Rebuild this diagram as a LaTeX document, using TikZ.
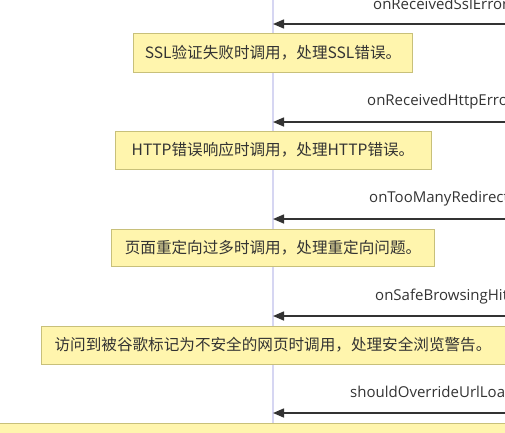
\documentclass[tikz,border=0pt]{standalone}
\usepackage{fontspec}
\setmainfont{Open Sans}
\newfontfamily\cjkfont{Noto Sans CJK SC}
\usepackage{xcolor}
\usetikzlibrary{arrows.meta}

\definecolor{notefill}{HTML}{FFF5AD}
\definecolor{noteline}{HTML}{C8C07A}
\definecolor{lifecolor}{HTML}{D6D6F2}
\definecolor{msgcolor}{HTML}{333333}

\begin{document}
\begin{tikzpicture}[
		x=1pt, y=-1pt,
		note/.style={rectangle, draw=noteline, fill=notefill, line width=0.9pt, inner sep=0pt, text centered, font=\cjkfont\fontsize{15.6}{18}\selectfont, text=msgcolor},  % 注释框
		msglabel/.style={anchor=west, inner sep=0pt, font=\fontsize{15}{17}\selectfont, text=msgcolor},
		msgarrow/.style={-{Triangle[length=11pt,width=9pt]}, line width=1.5pt, draw=msgcolor},
		lifeline/.style={draw=lifecolor, line width=1.6pt}
		]
		\useasboundingbox (0,0) rectangle (505,432);
		\clip (0,0) rectangle (505,432);
		% 生命线
		\coordinate (lifetop) at (273,-10);
		\coordinate (lifebot) at (273,445);
		\draw[lifeline] (lifetop) -- (lifebot);
		% 消息起点（右侧，画面外）与终点（生命线）
		\coordinate (src1) at (520,24);  \coordinate (dst1) at (273,24);
		\coordinate (src2) at (520,122); \coordinate (dst2) at (273,122);
		\coordinate (src3) at (520,219); \coordinate (dst3) at (273,219);
		\coordinate (src4) at (520,316); \coordinate (dst4) at (273,316);
		\coordinate (src5) at (520,413); \coordinate (dst5) at (273,413);
		% 消息标签
		\node[msglabel] (lab1) at (373,4) {onReceivedSslError};
		\node[msglabel] (lab2) at (367,102) {onReceivedHttpError};
		\node[msglabel] (lab3) at (369,199) {onTooManyRedirects};
		\node[msglabel] (lab4) at (375,297) {onSafeBrowsingHit};
		\node[msglabel] (lab5) at (350,394) {shouldOverrideUrlLoading};
		% 消息箭头
		\draw[msgarrow] (src1) -- (dst1);
		\draw[msgarrow] (src2) -- (dst2);
		\draw[msgarrow] (src3) -- (dst3);
		\draw[msgarrow] (src4) -- (dst4);
		\draw[msgarrow] (src5) -- (dst5);
		% 注释
		\node[note, minimum width=279pt, minimum height=39pt] (note1) at (273,52.5) {SSL验证失败时调用，处理SSL错误。};
		\node[note, minimum width=316pt, minimum height=38pt] (note2) at (273,150) {HTTP错误响应时调用，处理HTTP错误。};
		\node[note, minimum width=323pt, minimum height=37pt] (note3) at (273,247.5) {页面重定向过多时调用，处理重定向问题。};
		\node[note, minimum width=464pt, minimum height=38pt] (note4) at (273,345) {访问到被谷歌标记为不安全的网页时调用，处理安全浏览警告。};
		\node[note, minimum width=700pt, minimum height=38pt] (note5) at (273,442) {};
	\end{tikzpicture}
\end{document}
